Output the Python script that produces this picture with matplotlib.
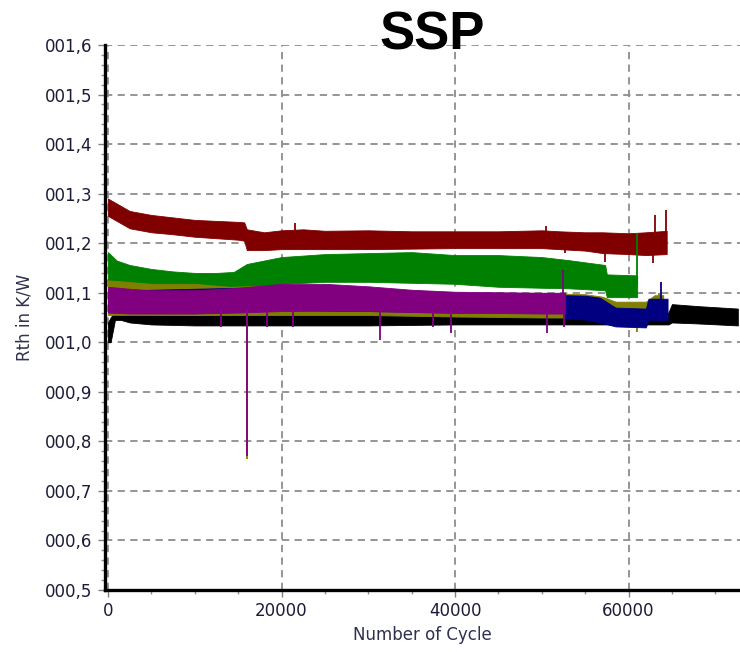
import matplotlib
matplotlib.use("Agg")
import matplotlib.pyplot as plt
from matplotlib.ticker import MultipleLocator, FuncFormatter

# Rth envelopes (lower / upper bound of the scatter band) per test sample
red_x  = [0, 1000, 2500, 5000, 7500, 10000, 12500, 15000, 15700, 16000, 18000, 20000,
          22500, 25000, 30000, 35000, 40000, 45000, 50000, 52000, 55000, 57000, 60000, 62000, 64400]
red_lo = [1.255, 1.245, 1.230, 1.222, 1.218, 1.213, 1.210, 1.207, 1.205, 1.186, 1.186, 1.188,
          1.188, 1.188, 1.188, 1.189, 1.190, 1.190, 1.190, 1.188, 1.185, 1.180, 1.178, 1.176, 1.178]
red_hi = [1.290, 1.280, 1.265, 1.257, 1.252, 1.247, 1.245, 1.243, 1.242, 1.228, 1.222, 1.226,
          1.228, 1.225, 1.226, 1.224, 1.224, 1.224, 1.226, 1.224, 1.222, 1.222, 1.220, 1.222, 1.225]
red_spike_x = [21600, 50500, 52700, 57300, 62800, 63000, 64300]
red_spike_y = [1.240, 1.235, 1.180, 1.162, 1.160, 1.257, 1.267]

green_x  = [0, 1000, 2500, 5000, 7500, 10000, 12500, 14500, 16000, 18000, 20000, 25000,
            30000, 35000, 40000, 45000, 50000, 53000, 57300, 57500, 61000]
green_lo = [1.125, 1.118, 1.112, 1.109, 1.107, 1.105, 1.105, 1.105, 1.108, 1.111, 1.118, 1.122,
            1.122, 1.120, 1.118, 1.112, 1.110, 1.109, 1.105, 1.091, 1.091]
green_hi = [1.182, 1.165, 1.156, 1.148, 1.143, 1.140, 1.140, 1.142, 1.158, 1.165, 1.172, 1.178,
            1.180, 1.182, 1.176, 1.176, 1.172, 1.166, 1.156, 1.137, 1.135]
green_spike_x = [61000]
green_spike_y = [1.220]

black_x  = [0, 300, 800, 1500, 2500, 5000, 10000, 20000, 30000, 40000, 50000, 55000, 62000,
            64600, 65000, 68000, 72600]
black_lo = [1.000, 1.000, 1.045, 1.045, 1.040, 1.036, 1.034, 1.034, 1.034, 1.036, 1.036, 1.036,
            1.036, 1.036, 1.040, 1.038, 1.034]
black_hi = [1.040, 1.050, 1.062, 1.062, 1.058, 1.055, 1.054, 1.056, 1.056, 1.055, 1.055, 1.055,
            1.055, 1.060, 1.077, 1.073, 1.068]
black_spike_x = [200]
black_spike_y = [1.004]

olive_x  = [0, 5000, 10000, 14000, 20000, 30000, 40000, 50000, 52700, 55000, 57000, 58500,
            62000, 63000, 64000]
olive_lo = [1.055, 1.055, 1.055, 1.055, 1.055, 1.055, 1.052, 1.050, 1.050, 1.050, 1.050, 1.045,
            1.045, 1.050, 1.055]
olive_hi = [1.125, 1.118, 1.118, 1.112, 1.115, 1.110, 1.100, 1.098, 1.098, 1.097, 1.092, 1.082,
            1.082, 1.095, 1.095]
olive_spike_x = [16000, 61000, 63500]
olive_spike_y = [0.765, 1.020, 1.100]

blue_x  = [0, 20000, 40000, 52600, 52700, 55000, 56700, 58500, 62000, 62300, 64500]
blue_lo = [1.062, 1.065, 1.061, 1.060, 1.048, 1.046, 1.040, 1.032, 1.030, 1.045, 1.045]
blue_hi = [1.104, 1.112, 1.100, 1.098, 1.095, 1.094, 1.090, 1.070, 1.068, 1.088, 1.088]
blue_spike_x = [63800]
blue_spike_y = [1.121]

purple_x  = [0, 2500, 5000, 10000, 15000, 20000, 25000, 30000, 35000, 40000, 45000, 50000, 52700]
purple_lo = [1.060, 1.058, 1.058, 1.058, 1.060, 1.063, 1.064, 1.063, 1.061, 1.059, 1.059, 1.058, 1.058]
purple_hi = [1.112, 1.108, 1.105, 1.105, 1.110, 1.118, 1.118, 1.113, 1.106, 1.102, 1.101, 1.100, 1.100]
purple_spike_x = [13000, 16000, 18300, 21300, 31300, 37500, 39500, 50600, 52500, 52600]
purple_spike_y = [1.030, 0.770, 1.030, 1.030, 1.004, 1.030, 1.018, 1.018, 1.145, 1.030]

y_ticks = [0.5, 0.6, 0.7, 0.8, 0.9, 1.0, 1.1, 1.2, 1.3, 1.4, 1.5, 1.6]
x_ticks = [0, 20000, 40000, 60000]

series = [
    # (x, lower, upper, spike x, spike y, colour)
    (red_x, red_lo, red_hi, red_spike_x, red_spike_y, "#800000"),
    (green_x, green_lo, green_hi, green_spike_x, green_spike_y, "#008000"),
    (black_x, black_lo, black_hi, black_spike_x, black_spike_y, "#000000"),
    (olive_x, olive_lo, olive_hi, olive_spike_x, olive_spike_y, "#808000"),
    (blue_x, blue_lo, blue_hi, blue_spike_x, blue_spike_y, "#000080"),
    (purple_x, purple_lo, purple_hi, purple_spike_x, purple_spike_y, "#800080"),
]

fig = plt.figure(figsize=(7.40, 6.52), dpi=100)
ax = fig.add_axes([105 / 740, 62 / 652, 635 / 740, 545 / 652])

for z, (sx, lo, hi, kx, ky, col) in enumerate(series):
    ax.fill_between(sx, lo, hi, color=col, linewidth=0.6, edgecolor=col, zorder=3 + z)
    # single-cycle outliers drawn as thin vertical strokes from the band centre
    for xs, ys in zip(kx, ky):
        near = min(range(len(sx)), key=lambda i: abs(sx[i] - xs))
        base = (lo[near] + hi[near]) / 2
        ax.vlines(xs, min(base, ys), max(base, ys), color=col, linewidth=1.3, zorder=3 + z)

ax.set_xlim(-346, 72850)
ax.set_ylim(0.5, 1.6)
ax.set_xticks(x_ticks)
ax.set_yticks(y_ticks)
ax.xaxis.set_minor_locator(MultipleLocator(5000))
ax.yaxis.set_minor_locator(MultipleLocator(0.02))
ax.yaxis.set_major_formatter(FuncFormatter(lambda v, p: f"{v:05.1f}".replace(".", ",")))

tick_col = "#1c1c38"
ax.tick_params(axis="both", which="major", direction="out", length=5, width=1,
               color="#808080", labelsize=12, labelcolor=tick_col, pad=4)
ax.tick_params(axis="both", which="minor", direction="out", length=3, width=1, color="#909090")

ax.grid(True, which="major", linestyle=(0, (4, 3)), color="#8c8c8c", linewidth=1.3, zorder=1)
ax.set_axisbelow(True)

for side in ("top", "right"):
    ax.spines[side].set_visible(False)
for side in ("left", "bottom"):
    ax.spines[side].set_linewidth(2.4)
    ax.spines[side].set_color("black")
    ax.spines[side].set_zorder(20)

ax.set_xlabel("Number of Cycle", fontsize=12, color="#303050", labelpad=4)
ax.set_ylabel("Rth in K/W", fontsize=12, color="#303050", labelpad=8)

fig.text(432 / 740, 1 - 35 / 652, "SSP", fontsize=38, fontweight="bold",
         family="Liberation Sans", ha="center", va="center", zorder=30)

fig.savefig("out.png", dpi=100)
